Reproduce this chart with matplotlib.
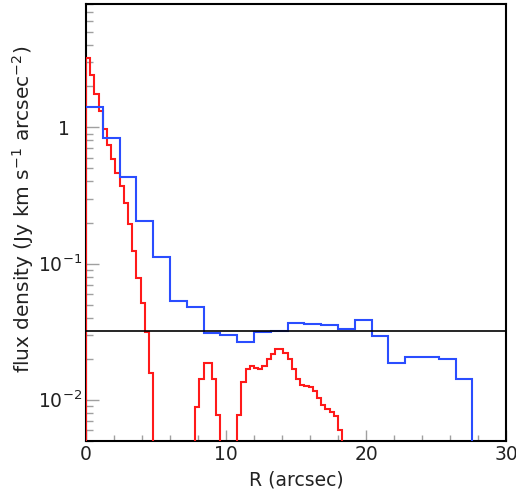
import numpy as np
import matplotlib
matplotlib.use("Agg")
import matplotlib.pyplot as plt
from matplotlib.ticker import MultipleLocator, FixedLocator, LogLocator, NullFormatter

# ---- data ----
red_edges = np.linspace(0.0, 18.3, 62)          # 0.3 arcsec bins
red_values = [3.23, 2.43, 1.75, 1.31, 0.975, 0.743, 0.583, 0.465, 0.371, 0.277,
              0.194, 0.124, 0.078, 0.051, 0.0313, 0.0156,
              0, 0, 0, 0, 0, 0, 0, 0, 0, 0,
              0.00877, 0.0143, 0.0187, 0.0187, 0.0141, 0.00769,
              0, 0, 0, 0,
              0.00778, 0.0136, 0.0167, 0.0178, 0.0172, 0.0167, 0.0178, 0.0198,
              0.0216, 0.0234, 0.0234, 0.0219, 0.0198, 0.0167, 0.0143, 0.0129,
              0.0126, 0.0124, 0.01154, 0.01037, 0.00922, 0.00851, 0.00813,
              0.0076, 0.00597]

blue_edges = np.linspace(0.0, 27.6, 24)          # 1.2 arcsec bins
blue_values = [1.398, 0.837, 0.428, 0.204, 0.1117, 0.053, 0.0476, 0.031, 0.0299,
               0.0266, 0.0312, 0.0322, 0.0367, 0.0359, 0.0355, 0.033, 0.0386,
               0.0293, 0.0187, 0.0207, 0.0207, 0.0200, 0.0141]

noise_level = 0.032

x_ticks = [0, 10, 20, 30]
x_ticklabels = ["0", "10", "20", "30"]
y_ticks = [0.01, 0.1, 1]
y_ticklabels = [r"$10^{-2}$", r"$10^{-1}$", "1  "]

xlim = (0, 30)
ylim = (0.005, 8.0)

# ---- figure ----
plt.rcParams["font.family"] = ["DejaVu Sans"]
plt.rcParams["mathtext.default"] = "regular"

fig = plt.figure(figsize=(5.16, 4.92), dpi=100)
ax = fig.add_axes([86 / 516, 1 - 440.7 / 492, 420 / 516, 436.4 / 492])
ax.set_yscale("log")
ax.set_xlim(*xlim)
ax.set_ylim(*ylim)

floor = ylim[0] * 0.01
red_plot = np.where(np.asarray(red_values) > 0, red_values, floor)
ax.stairs(red_plot, red_edges, baseline=floor, color="#ff1a1a", lw=1.5, zorder=3)

blue_ext = np.append(blue_values, floor)
blue_edges_ext = np.append(blue_edges, blue_edges[-1] + (blue_edges[1] - blue_edges[0]))
ax.stairs(blue_ext, blue_edges_ext, baseline=None, color="#2a4dff", lw=1.5, zorder=4)

ax.axhline(noise_level, color="black", lw=1.2, zorder=5)

# ticks
ax.xaxis.set_major_locator(FixedLocator(x_ticks))
ax.set_xticklabels(x_ticklabels)
ax.xaxis.set_minor_locator(MultipleLocator(2))
ax.yaxis.set_major_locator(FixedLocator(y_ticks))
ax.set_yticklabels(y_ticklabels)
ax.yaxis.set_minor_locator(LogLocator(base=10, subs=np.arange(2, 10)))
ax.yaxis.set_minor_formatter(NullFormatter())

ax.tick_params(which="both", direction="in", color="#a0a0a0", top=False, right=False,
               labelsize=13.5, labelcolor="#222222")
ax.tick_params(axis="x", which="major", length=8, width=1.0, pad=3)
ax.tick_params(axis="x", which="minor", length=4, width=1.0)
ax.tick_params(axis="y", which="major", length=9, width=1.0, pad=3)
ax.tick_params(axis="y", which="minor", length=5, width=1.0)

for sp in ax.spines.values():
    sp.set_linewidth(1.5)
    sp.set_color("black")

ax.set_xlabel("R (arcsec)", fontsize=13.5, color="#222222")
ax.xaxis.set_label_coords(0.5, -0.068)
ax.set_ylabel(r"flux density (Jy km s$^{-1}$ arcsec$^{-2}$)", fontsize=14.5, color="#222222")
ax.yaxis.set_label_coords(-0.118, 0.53)

fig.savefig("out.png", dpi=100)
